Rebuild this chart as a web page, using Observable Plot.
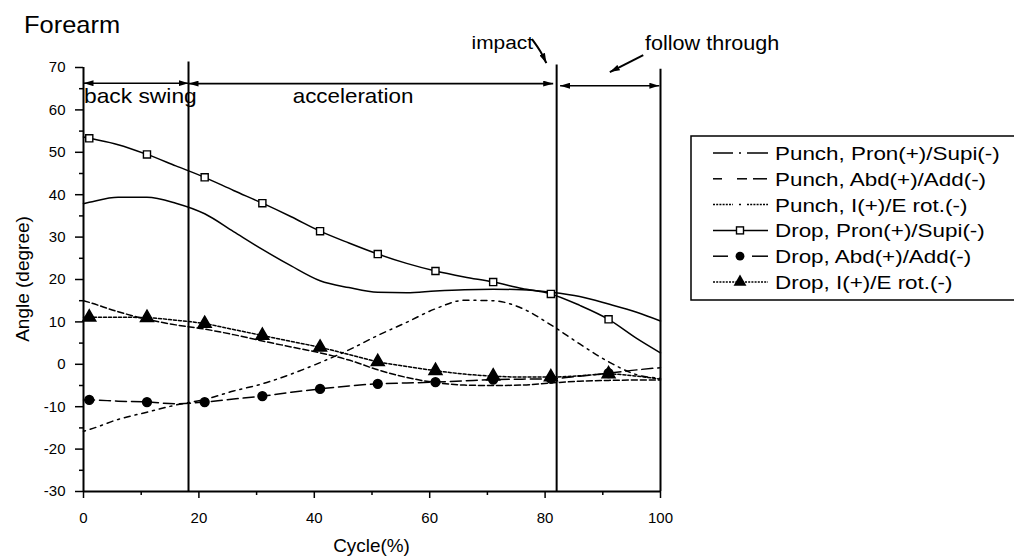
<!DOCTYPE html>
<html><head><meta charset="utf-8">
<script src="https://cdn.jsdelivr.net/npm/d3@7"></script>
<script src="https://cdn.jsdelivr.net/npm/@observablehq/plot@0.6"></script>
<style>
html,body{margin:0;padding:0;background:#fff;}
#chart{position:relative;width:1014px;height:557px;overflow:hidden;background:#fff;}
svg{font-family:"Liberation Sans",Arial,sans-serif;}
</style></head><body><div id="chart"></div>
<script>
// ---------- data ----------
const cycle = [0,1,6,11,16,21,26,31,36,41,46,51,56,61,66,71,76,81,86,91,96,100];
const markerCycles = [1,11,21,31,41,51,61,71,81,91];

const seriesNames = [
  "Punch, Pron(+)/Supi(-)",
  "Punch, Abd(+)/Add(-)",
  "Punch, I(+)/E rot.(-)",
  "Drop, Pron(+)/Supi(-)",
  "Drop, Abd(+)/Add(-)",
  "Drop, I(+)/E rot.(-)"
];
const punchPron = [37.9,38.2,39.4,39.4,38.0,35.5,31.3,27.1,23.2,19.7,18.1,17.0,16.9,17.3,17.6,17.7,17.6,17.0,16.0,14.2,12.2,10.2];
const punchAbd  = [15.0,14.6,12.4,10.6,9.3,8.3,7.0,5.5,4.1,2.7,1.0,-1.3,-3.1,-4.3,-4.9,-5.0,-4.9,-4.4,-4.0,-3.8,-3.7,-3.7];
const punchIE   = [-15.8,-15.4,-13.0,-11.3,-9.6,-8.3,-6.3,-4.6,-2.3,0.4,3.4,6.8,9.9,13.1,15.1,15.0,13.2,9.3,4.8,0.6,-2.5,-3.3];
const dropPron  = [53.6,53.3,51.8,49.5,46.8,44.1,41.0,38.0,34.8,31.4,28.6,26.0,23.8,22.0,20.6,19.4,17.9,16.6,13.9,10.6,6.0,2.7];
const dropAbd   = [-8.4,-8.4,-8.7,-8.9,-9.3,-8.9,-8.2,-7.5,-6.6,-5.8,-5.1,-4.6,-4.4,-4.2,-3.9,-3.6,-3.5,-3.4,-2.8,-2.1,-1.3,-0.8];
const dropIE    = [11.1,11.1,11.1,11.0,10.4,9.6,8.2,6.8,5.4,4.0,2.3,0.6,-0.5,-1.5,-2.3,-2.8,-3.0,-3.0,-2.7,-2.3,-2.8,-3.5];
const seriesValues = [punchPron, punchAbd, punchIE, dropPron, dropAbd, dropIE];

const xTicks = [0,20,40,60,80,100];
const xMinor = [10,30,50,70,90];
const yTicks = [-30,-20,-10,0,10,20,30,40,50,60,70];
const yMinor = [-25,-15,-5,5,15,25,35,45,55,65];

// phase boundaries (cycle %) and how far up (degree) each line reaches
const phaseX   = [18.2, 82, 100];
const phaseTop = [71.3, 70.6, 69.6];
// phase span arrows
const phaseLabels = ["back swing", "acceleration", ""];
const phaseStart  = [0, 18.2, 82.6];
const phaseEnd    = [18.2, 81.4, 99.8];
const phaseLevel  = [66.3, 66.2, 65.7];

// ---------- styles ----------
const styles = [
  {dash: null,        symbol: null},
  {dash: "6,3",       symbol: null},
  {dash: "2,5,6,5",   symbol: null},
  {dash: null,        symbol: "square"},
  {dash: "11,5",      symbol: "circle"},
  {dash: "3,2",       symbol: "triangle"}
];

const rows = [];
seriesNames.forEach((s, i) => cycle.forEach((c, j) => rows.push({series: s, idx: i, x: c, y: seriesValues[i][j]})));

const fmt = d => String(d);
const marks = [];
// axis lines
marks.push(Plot.ruleY([-30], {strokeWidth: 2}));
marks.push(Plot.ruleX([0], {y1: -30, y2: 70, strokeWidth: 2}));
marks.push(Plot.axisX({ticks: xTicks, tickSize: 7, tickPadding: 14, fontSize: 15, strokeWidth: 1.5, label: null, tickFormat: fmt}));
marks.push(Plot.axisX({ticks: xMinor, tickSize: 4, tickFormat: () => "", strokeWidth: 1.5, label: null}));
marks.push(Plot.axisY({ticks: yTicks, tickSize: 8, tickPadding: 10, fontSize: 15, strokeWidth: 1.5, label: null, tickFormat: fmt}));
marks.push(Plot.axisY({ticks: yMinor, tickSize: 4, tickFormat: () => "", strokeWidth: 1.5, label: null}));

// phase lines
const phaseRows = phaseX.map((x, i) => ({x, top: phaseTop[i]}));
marks.push(Plot.ruleX(phaseRows, {x: "x", y1: -30, y2: "top", strokeWidth: 2}));
const arrowRows = phaseStart.map((s, i) => ({x1: s, x2: phaseEnd[i], y: phaseLevel[i]}));
marks.push(Plot.link(arrowRows, {x1: "x1", x2: "x2", y1: "y", y2: "y", strokeWidth: 1.6, stroke: "black"}));

// series lines
seriesNames.forEach((s, i) => {
  const d = rows.filter(r => r.idx === i);
  const opts = {x: "x", y: "y", stroke: "black", strokeWidth: 1.5, curve: "monotone-x"};
  if (styles[i].dash) opts.strokeDasharray = styles[i].dash;
  marks.push(Plot.line(d, opts));
});
// markers
seriesNames.forEach((s, i) => {
  const sym = styles[i].symbol;
  if (!sym) return;
  const d = rows.filter(r => r.idx === i && markerCycles.includes(r.x));
  if (sym === "square") marks.push(Plot.dot(d, {x: "x", y: "y", symbol: "square", r: 4, fill: "white", stroke: "black", strokeWidth: 1.4}));
  if (sym === "circle") marks.push(Plot.dot(d, {x: "x", y: "y", symbol: "circle", r: 4.4, fill: "black", stroke: "black"}));
  if (sym === "triangle") marks.push(Plot.dot(d, {x: "x", y: "y", symbol: "triangle", r: 4.8, fill: "black", stroke: "black"}));
});

const plot = Plot.plot({
  width: 1014, height: 557,
  marginLeft: 83, marginRight: 354, marginTop: 67, marginBottom: 66,
  x: {domain: [0, 100], label: null},
  y: {domain: [-30, 70], label: null},
  style: {fontFamily: "'Liberation Sans', Arial, sans-serif", fontSize: "15px", color: "black", background: "white", overflow: "visible"},
  marks
});
document.getElementById("chart").appendChild(plot);

// ---------- overlays ----------
const svg = d3.select(plot);
const X = v => plot.scale("x").apply(v);
const Y = v => plot.scale("y").apply(v);

svg.selectAll('g[aria-label$="tick label"]').attr("font-size", 15).style("font-size", "15px");
svg.selectAll('g[aria-label$="tick label"] text').attr("font-size", 15).style("font-size", "15px");

const defs = svg.append("defs");
defs.append("marker").attr("id", "ah").attr("viewBox", "0 0 10 6").attr("refX", 10).attr("refY", 3)
  .attr("markerWidth", 10).attr("markerHeight", 6).attr("markerUnits", "userSpaceOnUse")
  .attr("orient", "auto-start-reverse")
  .append("path").attr("d", "M0,0L10,3L0,6Z").attr("fill", "black");

svg.selectAll('g[aria-label="link"] path').attr("marker-start", "url(#ah)").attr("marker-end", "url(#ah)");

function stretchedText(x, y, str, size, sx, anchor) {
  return svg.append("text")
    .attr("transform", `translate(${x},${y}) scale(${sx},1)`)
    .attr("text-anchor", anchor || "start")
    .attr("font-size", size)
    .attr("font-weight", "normal")
    .attr("fill", "black")
    .text(str);
}

// phase labels
stretchedText(X(phaseStart[0]) + 1, Y(61.6), phaseLabels[0], 20, 1.14, "start");
stretchedText(X(46.8), Y(61.6), phaseLabels[1], 20, 1.12, "middle");

// impact / follow through annotations
const impactText = {x: 78.0, y: 74.2, label: "impact"};
const impactArrow = [[77.8, 76.6], [79.4, 73.6], [80.3, 70.9]];
const followText = {x: 97.4, y: 74.0, label: "follow through"};
const followArrow = [[97.1, 72.8], [91.3, 68.8]];

stretchedText(X(impactText.x), Y(impactText.y), impactText.label, 19, 1.1, "end");
stretchedText(X(followText.x), Y(followText.y), followText.label, 20, 1.08, "start");
const lineGen = d3.line().x(d => X(d[0])).y(d => Y(d[1])).curve(d3.curveBasis);
svg.append("path").attr("d", lineGen(impactArrow)).attr("fill", "none").attr("stroke", "black").attr("stroke-width", 2).attr("marker-end", "url(#ah)");
svg.append("path").attr("d", d3.line().x(d => X(d[0])).y(d => Y(d[1]))(followArrow)).attr("fill", "none").attr("stroke", "black").attr("stroke-width", 2).attr("marker-end", "url(#ah)");

// title and axis labels
stretchedText(24, 33, "Forearm", 24, 1.06, "start");
svg.append("text").attr("transform", `translate(29,${Y(20)}) rotate(-90)`).attr("text-anchor", "middle")
  .attr("font-size", 19).attr("font-weight", "normal").attr("fill", "black").text("Angle (degree)");
stretchedText(X(50), 552, "Cycle(%)", 18, 1.05, "middle");

// legend
const lg = svg.append("g");
lg.append("rect").attr("x", 691).attr("y", 136).attr("width", 400).attr("height", 164)
  .attr("fill", "white").attr("stroke", "black").attr("stroke-width", 1.5);
const rowY = i => 153 + i * 25.8;
const legendSegs = [
  [[713,733,null],[739,741,null],[747,768,null]],
  [[713,722,null],[737,747,null],[753,767,null]],
  [[713,733,"2,1.2"],[739,741,null],[747,768,"2,1.2"]],
  [[713,768,null]],
  [[713,728,null],[752,768,null]],
  [[713,768,"2,1.2"]]
];
seriesNames.forEach((s, i) => {
  const y = rowY(i);
  legendSegs[i].forEach(([a, b, dash]) => {
    const l = lg.append("line").attr("x1", a).attr("x2", b).attr("y1", y).attr("y2", y)
      .attr("stroke", "black").attr("stroke-width", 1.5);
    if (dash) l.attr("stroke-dasharray", dash);
  });
  const sym = styles[i].symbol;
  if (sym === "square") lg.append("rect").attr("x", 736.5).attr("y", y - 3.5).attr("width", 7).attr("height", 7).attr("fill", "white").attr("stroke", "black").attr("stroke-width", 1.4);
  if (sym === "circle") lg.append("circle").attr("cx", 740).attr("cy", y).attr("r", 4.4).attr("fill", "black");
  if (sym === "triangle") lg.append("path").attr("transform", `translate(740,${y})`).attr("d", d3.symbol(d3.symbolTriangle, Math.PI * 4.8 * 4.8)()).attr("fill", "black");
  stretchedText(775, y + 7, s, 19, 1.18, "start");
});
</script></body></html>
